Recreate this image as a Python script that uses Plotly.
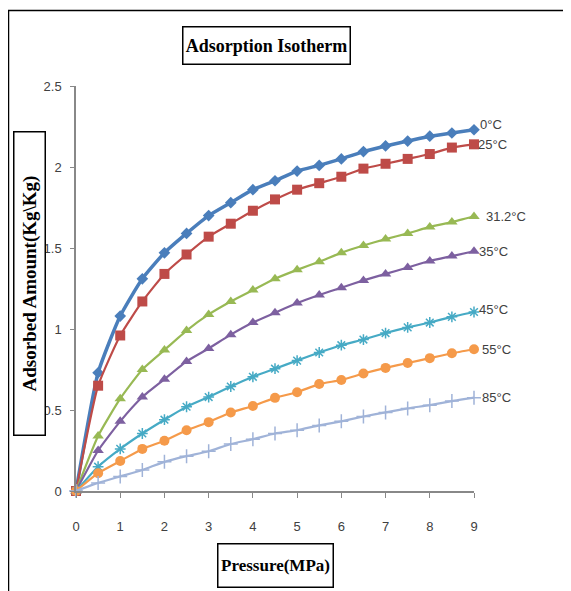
import plotly.graph_objects as go

pressure = [0, 0.5, 1, 1.5, 2, 2.5, 3, 3.5, 4, 4.5, 5, 5.5, 6, 6.5, 7, 7.5, 8, 8.5, 9]

t0 = [0, 0.73, 1.08, 1.31, 1.47, 1.59, 1.70, 1.78, 1.86, 1.915, 1.975, 2.01, 2.05, 2.095, 2.13, 2.16, 2.19, 2.21, 2.23]
t25 = [0, 0.65, 0.96, 1.17, 1.34, 1.46, 1.57, 1.65, 1.73, 1.80, 1.86, 1.90, 1.94, 1.99, 2.02, 2.05, 2.08, 2.12, 2.14]
t31 = [0, 0.34, 0.57, 0.75, 0.87, 0.99, 1.09, 1.17, 1.24, 1.31, 1.365, 1.415, 1.47, 1.515, 1.555, 1.59, 1.63, 1.66, 1.695]
t35 = [0, 0.25, 0.43, 0.58, 0.69, 0.80, 0.88, 0.965, 1.04, 1.10, 1.16, 1.21, 1.255, 1.30, 1.34, 1.38, 1.42, 1.45, 1.48]
t45 = [0, 0.15, 0.26, 0.355, 0.44, 0.52, 0.58, 0.645, 0.705, 0.755, 0.805, 0.855, 0.90, 0.935, 0.975, 1.01, 1.04, 1.075, 1.105]
t55 = [0, 0.11, 0.185, 0.26, 0.31, 0.375, 0.425, 0.485, 0.525, 0.575, 0.61, 0.66, 0.685, 0.725, 0.76, 0.79, 0.82, 0.85, 0.875]
t85 = [0, 0.05, 0.09, 0.13, 0.18, 0.215, 0.245, 0.29, 0.32, 0.355, 0.375, 0.405, 0.43, 0.46, 0.485, 0.51, 0.53, 0.555, 0.576]

labels = ["0°C", "25°C", "31.2°C", "35°C", "45°C", "55°C", "85°C"]
series = [t0, t25, t31, t35, t45, t55, t85]
colors = ["#4A7EBB", "#BE4B48", "#98B954", "#7D60A0", "#46AAC5", "#F59A4A", "#A0B3D8"]
symbols = ["diamond", "square", "triangle-up", "triangle-up", "asterisk-open", "circle", "cross-thin-open"]
msizes = [9, 10, 10, 10, 9, 10, 10]
lwidths = [3.5, 2.2, 2.2, 2.2, 2.2, 2.2, 2.2]
label_shift = [(4, 5), (2, 0), (10, 0), (3, 0), (3, 2), (6, 0), (6, 0)]

# page has an 8px body margin; figure pixel = page pixel - OFF
OFF = 8
W, H = 571 - OFF, 591 - OFF
ML, MT = 76 - OFF, 86 - OFF
MR = W - (474 - OFF)
MB = H - (491 - OFF)
PW, PH = W - ML - MR, H - MT - MB

def px(x):
    return (x - OFF - ML) / PW

def py(y):
    return (H - MB - (y - OFF)) / PH

fig = go.Figure()
for name, ys, c, s, ms, lw in zip(labels, series, colors, symbols, msizes, lwidths):
    line_marker = dict(color=c, size=ms, symbol=s)
    if s.endswith("open"):
        line_marker["line"] = dict(color=c, width=1.5)
    fig.add_trace(go.Scatter(
        x=pressure, y=ys, name=name, mode="lines+markers",
        line=dict(color=c, width=lw, shape="spline", smoothing=0.5),
        marker=line_marker, showlegend=False, cliponaxis=False,
    ))

for name, ys, (xs, ys_) in zip(labels, series, label_shift):
    fig.add_annotation(x=pressure[-1], y=ys[-1], text=name, showarrow=False,
                       xanchor="left", yanchor="middle", xshift=xs, yshift=ys_,
                       font=dict(family="Liberation Sans Narrow, Arial Narrow, Liberation Sans", size=13, color="#404040"))

# Title box
fig.add_annotation(xref="paper", yref="paper", x=px(266), y=py(45), text="<b>Adsorption Isotherm</b>",
                   showarrow=False, xanchor="center", yanchor="middle",
                   font=dict(family="Liberation Serif, Times New Roman, serif", size=18, color="black"),
                   bordercolor="black", borderwidth=1.5, bgcolor="white", width=164, height=34)
# Y title box
fig.add_annotation(xref="paper", yref="paper", x=px(29), y=py(284), text="<b>Adsorbed Amount(Kg\\Kg)</b>",
                   showarrow=False, xanchor="center", yanchor="middle", textangle=-90,
                   font=dict(family="Liberation Serif, Times New Roman, serif", size=19, color="black"),
                   bordercolor="black", borderwidth=1.5, bgcolor="white", width=300, height=28)
# X title box
fig.add_annotation(xref="paper", yref="paper", x=px(275.5), y=py(565), text="<b>Pressure(MPa)</b>",
                   showarrow=False, xanchor="center", yanchor="middle",
                   font=dict(family="Liberation Serif, Times New Roman, serif", size=17, color="black"),
                   bordercolor="black", borderwidth=1.5, bgcolor="white", width=112, height=40)

# Outer border
fig.add_shape(type="rect", xref="paper", yref="paper", x0=px(8.5), y0=py(700), x1=px(700), y1=py(10.5),
              line=dict(color="black", width=1.5), layer="below")

tickfont = dict(family="Liberation Sans Narrow, Arial Narrow, Liberation Sans", size=13, color="#404040")
fig.update_xaxes(range=[0, 9], tickvals=list(range(10)), showline=True, linecolor="#888888", linewidth=1.5,
                 ticks="outside", ticklen=5, tickcolor="#888888", showgrid=False, zeroline=False,
                 tickfont=tickfont, ticklabelstandoff=18)
fig.update_yaxes(range=[0, 2.5], tickvals=[0, 0.5, 1, 1.5, 2, 2.5], ticktext=["0", "0.5", "1", "1.5", "2", "2.5"],
                 showline=True, linecolor="#888888", linewidth=1.5,
                 ticks="outside", ticklen=4, tickcolor="#888888", showgrid=False, zeroline=False,
                 tickfont=tickfont, ticklabelstandoff=6)
fig.update_layout(width=W, height=H, margin=dict(l=ML, r=MR, t=MT, b=MB),
                  paper_bgcolor="white", plot_bgcolor="white")
fig.write_html("out.html")
